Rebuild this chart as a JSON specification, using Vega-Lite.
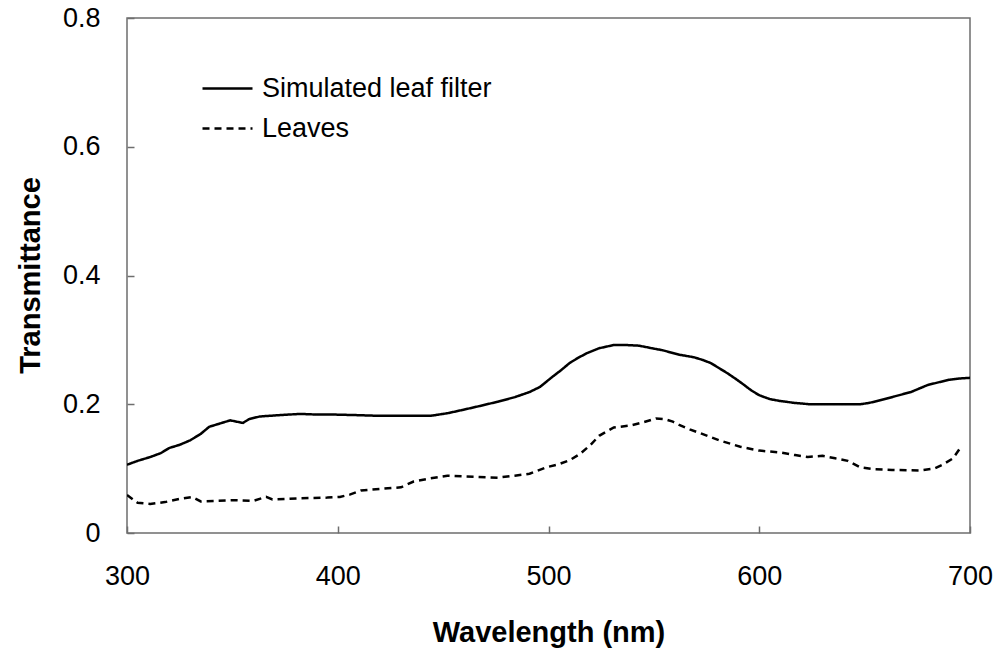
{
  "$schema": "https://vega.github.io/schema/vega-lite/v6.json",
  "width": 843,
  "height": 515,
  "autosize": "none",
  "padding": {"left": 127, "top": 18, "right": 32, "bottom": 120},
  "background": "white",
  "config": {
    "font": "Liberation Sans",
    "view": {"stroke": "#6e6e6e", "strokeWidth": 1.5},
    "axis": {"grid": false, "domain": false, "labelFlush": false, "tickColor": "#6e6e6e", "tickSize": -7, "tickWidth": 1.5, "labelFont": "Liberation Sans", "labelFontSize": 27, "labelColor": "black", "titleFont": "Liberation Sans", "titleFontSize": 29, "titleFontWeight": "bold", "titleColor": "black"}
  },
  "data": {"values": [
    {"wl":300,"t":0.106,"s":"Simulated leaf filter"},{"wl":305,"t":0.112,"s":"Simulated leaf filter"},{"wl":311,"t":0.118,"s":"Simulated leaf filter"},{"wl":316,"t":0.124,"s":"Simulated leaf filter"},{"wl":320,"t":0.132,"s":"Simulated leaf filter"},{"wl":325,"t":0.137,"s":"Simulated leaf filter"},{"wl":330,"t":0.144,"s":"Simulated leaf filter"},{"wl":335,"t":0.154,"s":"Simulated leaf filter"},{"wl":339,"t":0.165,"s":"Simulated leaf filter"},{"wl":344,"t":0.170,"s":"Simulated leaf filter"},{"wl":349,"t":0.175,"s":"Simulated leaf filter"},{"wl":355,"t":0.171,"s":"Simulated leaf filter"},{"wl":358,"t":0.177,"s":"Simulated leaf filter"},{"wl":363,"t":0.181,"s":"Simulated leaf filter"},{"wl":372,"t":0.183,"s":"Simulated leaf filter"},{"wl":382,"t":0.185,"s":"Simulated leaf filter"},{"wl":390,"t":0.184,"s":"Simulated leaf filter"},{"wl":398,"t":0.184,"s":"Simulated leaf filter"},{"wl":410,"t":0.183,"s":"Simulated leaf filter"},{"wl":420,"t":0.182,"s":"Simulated leaf filter"},{"wl":430,"t":0.182,"s":"Simulated leaf filter"},{"wl":444,"t":0.182,"s":"Simulated leaf filter"},{"wl":452,"t":0.186,"s":"Simulated leaf filter"},{"wl":459,"t":0.191,"s":"Simulated leaf filter"},{"wl":467,"t":0.197,"s":"Simulated leaf filter"},{"wl":476,"t":0.204,"s":"Simulated leaf filter"},{"wl":484,"t":0.211,"s":"Simulated leaf filter"},{"wl":491,"t":0.219,"s":"Simulated leaf filter"},{"wl":496,"t":0.227,"s":"Simulated leaf filter"},{"wl":502,"t":0.243,"s":"Simulated leaf filter"},{"wl":506,"t":0.253,"s":"Simulated leaf filter"},{"wl":510,"t":0.264,"s":"Simulated leaf filter"},{"wl":514,"t":0.272,"s":"Simulated leaf filter"},{"wl":518,"t":0.279,"s":"Simulated leaf filter"},{"wl":524,"t":0.287,"s":"Simulated leaf filter"},{"wl":531,"t":0.292,"s":"Simulated leaf filter"},{"wl":537,"t":0.292,"s":"Simulated leaf filter"},{"wl":543,"t":0.291,"s":"Simulated leaf filter"},{"wl":549,"t":0.287,"s":"Simulated leaf filter"},{"wl":554,"t":0.284,"s":"Simulated leaf filter"},{"wl":562,"t":0.277,"s":"Simulated leaf filter"},{"wl":569,"t":0.273,"s":"Simulated leaf filter"},{"wl":573,"t":0.269,"s":"Simulated leaf filter"},{"wl":577,"t":0.264,"s":"Simulated leaf filter"},{"wl":581,"t":0.256,"s":"Simulated leaf filter"},{"wl":585,"t":0.248,"s":"Simulated leaf filter"},{"wl":589,"t":0.239,"s":"Simulated leaf filter"},{"wl":592,"t":0.232,"s":"Simulated leaf filter"},{"wl":596,"t":0.222,"s":"Simulated leaf filter"},{"wl":600,"t":0.214,"s":"Simulated leaf filter"},{"wl":605,"t":0.208,"s":"Simulated leaf filter"},{"wl":610,"t":0.205,"s":"Simulated leaf filter"},{"wl":617,"t":0.202,"s":"Simulated leaf filter"},{"wl":624,"t":0.200,"s":"Simulated leaf filter"},{"wl":636,"t":0.200,"s":"Simulated leaf filter"},{"wl":648,"t":0.200,"s":"Simulated leaf filter"},{"wl":652,"t":0.202,"s":"Simulated leaf filter"},{"wl":656,"t":0.205,"s":"Simulated leaf filter"},{"wl":664,"t":0.212,"s":"Simulated leaf filter"},{"wl":672,"t":0.219,"s":"Simulated leaf filter"},{"wl":680,"t":0.230,"s":"Simulated leaf filter"},{"wl":685,"t":0.234,"s":"Simulated leaf filter"},{"wl":690,"t":0.238,"s":"Simulated leaf filter"},{"wl":695,"t":0.240,"s":"Simulated leaf filter"},{"wl":700,"t":0.241,"s":"Simulated leaf filter"},
    {"wl":300,"t":0.059,"s":"Leaves"},{"wl":305,"t":0.047,"s":"Leaves"},{"wl":311,"t":0.045,"s":"Leaves"},{"wl":318,"t":0.048,"s":"Leaves"},{"wl":325,"t":0.053,"s":"Leaves"},{"wl":331,"t":0.056,"s":"Leaves"},{"wl":335,"t":0.049,"s":"Leaves"},{"wl":343,"t":0.050,"s":"Leaves"},{"wl":351,"t":0.051,"s":"Leaves"},{"wl":360,"t":0.050,"s":"Leaves"},{"wl":366,"t":0.056,"s":"Leaves"},{"wl":369,"t":0.052,"s":"Leaves"},{"wl":382,"t":0.054,"s":"Leaves"},{"wl":395,"t":0.055,"s":"Leaves"},{"wl":401,"t":0.056,"s":"Leaves"},{"wl":406,"t":0.060,"s":"Leaves"},{"wl":411,"t":0.066,"s":"Leaves"},{"wl":422,"t":0.069,"s":"Leaves"},{"wl":430,"t":0.071,"s":"Leaves"},{"wl":436,"t":0.080,"s":"Leaves"},{"wl":444,"t":0.085,"s":"Leaves"},{"wl":452,"t":0.089,"s":"Leaves"},{"wl":459,"t":0.088,"s":"Leaves"},{"wl":467,"t":0.087,"s":"Leaves"},{"wl":476,"t":0.086,"s":"Leaves"},{"wl":484,"t":0.089,"s":"Leaves"},{"wl":491,"t":0.092,"s":"Leaves"},{"wl":499,"t":0.102,"s":"Leaves"},{"wl":505,"t":0.107,"s":"Leaves"},{"wl":510,"t":0.113,"s":"Leaves"},{"wl":515,"t":0.123,"s":"Leaves"},{"wl":520,"t":0.137,"s":"Leaves"},{"wl":524,"t":0.151,"s":"Leaves"},{"wl":531,"t":0.164,"s":"Leaves"},{"wl":539,"t":0.167,"s":"Leaves"},{"wl":545,"t":0.172,"s":"Leaves"},{"wl":551,"t":0.178,"s":"Leaves"},{"wl":555,"t":0.177,"s":"Leaves"},{"wl":559,"t":0.173,"s":"Leaves"},{"wl":562,"t":0.168,"s":"Leaves"},{"wl":567,"t":0.161,"s":"Leaves"},{"wl":572,"t":0.155,"s":"Leaves"},{"wl":581,"t":0.144,"s":"Leaves"},{"wl":591,"t":0.134,"s":"Leaves"},{"wl":600,"t":0.128,"s":"Leaves"},{"wl":610,"t":0.125,"s":"Leaves"},{"wl":617,"t":0.121,"s":"Leaves"},{"wl":623,"t":0.118,"s":"Leaves"},{"wl":630,"t":0.120,"s":"Leaves"},{"wl":636,"t":0.116,"s":"Leaves"},{"wl":642,"t":0.112,"s":"Leaves"},{"wl":648,"t":0.102,"s":"Leaves"},{"wl":655,"t":0.099,"s":"Leaves"},{"wl":663,"t":0.098,"s":"Leaves"},{"wl":676,"t":0.097,"s":"Leaves"},{"wl":683,"t":0.100,"s":"Leaves"},{"wl":687,"t":0.106,"s":"Leaves"},{"wl":692,"t":0.116,"s":"Leaves"},{"wl":696,"t":0.135,"s":"Leaves"}
  ]},
  "mark": {"type": "line", "color": "black", "strokeWidth": 2.5, "clip": true},
  "encoding": {
    "x": {"field": "wl", "type": "quantitative", "scale": {"domain": [300, 700], "nice": false},
      "axis": {"values": [300, 400, 500, 600, 700], "title": "Wavelength (nm)", "labelPadding": 37, "titleY": 99, "titleBaseline": "middle"}},
    "y": {"field": "t", "type": "quantitative", "scale": {"domain": [0, 0.8], "nice": false},
      "axis": {"values": [0, 0.2, 0.4, 0.6, 0.8], "labelExpr": "datum.value == 0 ? '0' : format(datum.value, '.1f')", "title": "Transmittance", "labelPadding": 34, "titleX": -97, "titleY": 257, "titleBaseline": "middle", "titleAlign": "center", "titleAngle": -90}},
    "strokeDash": {"field": "s", "type": "nominal",
      "scale": {"domain": ["Simulated leaf filter", "Leaves"], "range": [[1, 0], [7, 5]]},
      "legend": {"title": null, "orient": "none", "legendX": 74, "legendY": 44, "padding": 0, "symbolType": "stroke", "symbolSize": 2500, "symbolStrokeWidth": 2.5, "symbolStrokeColor": "black", "labelFontSize": 27, "labelFont": "Liberation Sans", "labelColor": "black", "labelLimit": 400, "rowPadding": -10, "labelOffset": 8}}
  }
}
